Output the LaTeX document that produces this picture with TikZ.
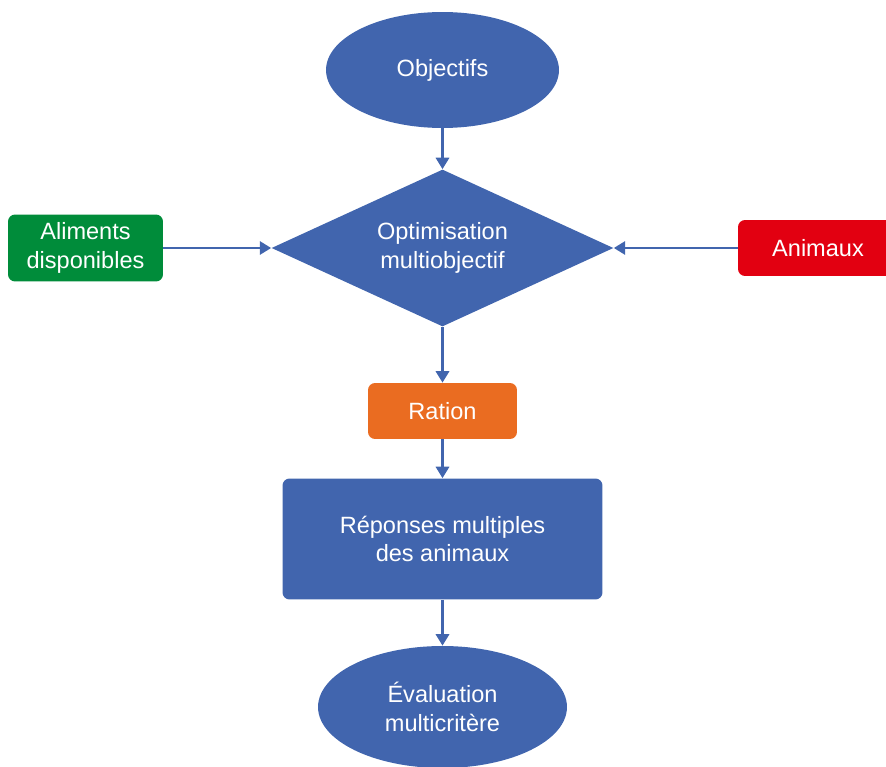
\documentclass[tikz,border=0pt]{standalone}
\usepackage{fontspec}
\setmainfont{Liberation Sans}
\usetikzlibrary{shapes.geometric,arrows.meta}
\definecolor{flowblue}{RGB}{65,101,174}
\definecolor{flowgreen}{RGB}{0,140,58}
\definecolor{flowred}{RGB}{226,0,17}
\definecolor{floworange}{RGB}{234,108,33}
\tikzset{
    block/.style={
        draw=none,
        rounded corners=0.14cm,
        text=white,
        align=center,
        inner sep=0mm,
        font=\fontsize{13.4}{16.4}\selectfont
    },
    oval/.style={
        ellipse,
        fill=flowblue,
        text=white,
        align=center,
        inner sep=0mm,
        font=\fontsize{13.4}{16.4}\selectfont
    },
    flow/.style={
        draw=flowblue,
        line width=1.5pt,
        -{Triangle[width=7.5pt,length=6.5pt]}
    }
}
\begin{document}
\begin{tikzpicture}[x=0.02cm,y=-0.02cm]
        \clip (0,0) rectangle (886,767);
        \node[oval,minimum width=4.66cm,minimum height=2.32cm] (obj) at (442.5,70) {Objectifs};
        \node[diamond,shape aspect=2.18,fill=flowblue,text=white,align=center,inner sep=0mm,
              minimum width=6.84cm,minimum height=3.14cm,
              font=\fontsize{13.4}{16.4}\selectfont] (opt) at (442.5,248) {Optimisation\\multiobjectif};
        \node[block,fill=flowgreen,minimum width=3.1cm,minimum height=1.34cm] (alim) at (85.5,248) {Aliments\\disponibles};
        \node[block,fill=flowred,minimum width=3.2cm,minimum height=1.12cm] (anim) at (818,248) {Animaux};
        \node[block,fill=floworange,minimum width=2.98cm,minimum height=1.12cm] (ration) at (442.5,411) {Ration};
        \node[block,fill=flowblue,minimum width=6.4cm,minimum height=2.42cm] (rep) at (442.5,539) {Réponses multiples\\des animaux};
        \node[oval,minimum width=4.98cm,minimum height=2.44cm] (eval) at (442.5,707) {Évaluation\\multicritère};
        \draw[flow] (obj) -- (opt);
        \draw[flow] (alim) -- (opt);
        \draw[flow] (anim) -- (opt);
        \draw[flow] (opt) -- (ration);
        \draw[flow] (ration) -- (rep);
        \draw[flow] (rep) -- (eval);
    \end{tikzpicture}
\end{document}
